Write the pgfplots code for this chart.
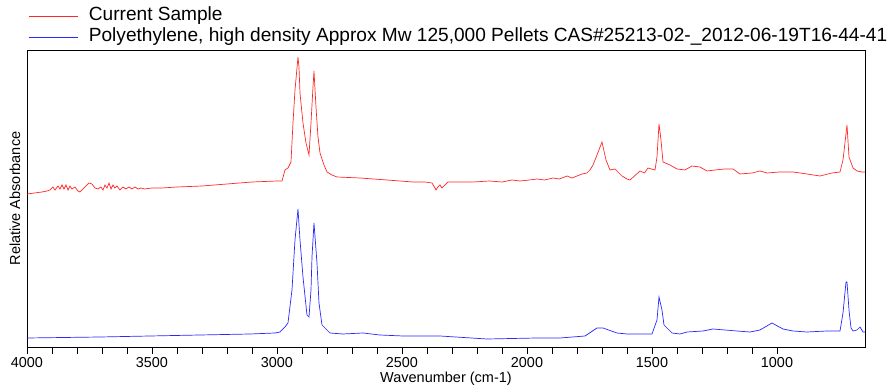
\documentclass[border=0pt]{standalone}
\usepackage{fontspec}
\setmainfont{Liberation Sans}
\usepackage{pgfplots}
\pgfplotsset{compat=1.18}
\definecolor{specred}{RGB}{255,40,40}
\definecolor{specblue}{RGB}{40,40,255}
\begin{document}
\begin{tikzpicture}
\begin{axis}[
  scale only axis, width=838pt, height=297pt,
  x dir=reverse, xmin=648, xmax=4000, ymin=0, ymax=297,
  xtick={1000,1500,2000,2500,3000,3500,4000},
  minor x tick num=4,
  ytick=\empty, xtick pos=bottom,
  every tick/.append style={black, line width=0.6pt},
  tick align=outside, xtick align=outside, major tick length=7pt, minor tick length=7pt,
  axis line style={line width=0.8pt},
  /pgf/number format/assume math mode=true,
  /pgf/number format/set thousands separator={},
  xticklabel style={font=\fontsize{14.4}{16}\selectfont},
  xlabel={Wavenumber (cm-1)}, ylabel={Relative Absorbance},
  label style={font=\fontsize{14.5}{16}\selectfont},
  xlabel style={at={(axis description cs:0.5,0)}, yshift=-32pt, anchor=center},
  ylabel style={at={(axis description cs:-0.0143,0.5)}, anchor=center},
  legend style={draw=none, fill=none, at={(axis description cs:0,1)}, anchor=south west,
    yshift=3pt, xshift=1pt, inner sep=0pt, row sep=2pt,
    font=\fontsize{19.1}{21}\selectfont,
    nodes={inner sep=1pt, text height=13pt, text depth=4pt}},
  legend cell align=left,
  legend image code/.code={\draw[#1] (0pt,0pt) -- (49pt,0pt); \path (59pt,0pt);},
]
\addplot[specred, line width=0.7pt] coordinates {
(4000,153)(3970,154)(3940,155)(3920,156)(3908,157)(3896,160)(3888,157)(3876,161)(3868,158)
(3860,162)(3852,158)(3844,162)(3836,157)(3828,161)(3820,158)(3808,160)(3796,156)(3788,155)
(3776,158)(3764,161)(3752,164)(3740,163)(3728,159)(3716,158)(3704,160)(3696,157)(3688,162)
(3680,159)(3672,164)(3664,158)(3656,162)(3648,159)(3640,161)(3628,157)(3616,160)(3604,158)
(3592,160)(3580,158)(3568,160)(3556,158)(3544,159)(3530,158)(3500,159)(3460,159)(3400,160)
(3300,161)(3200,163)(3100,165)(3000,166)
(2980,166)(2968,177)(2956,179)(2944,185)(2936,224)(2928,257)(2916,290)(2912,280)(2908,254)
(2896,224)(2884,204)(2872,192)(2864,224)(2856,260)(2852,276)(2844,240)(2836,210)(2828,194)
(2812,182)(2800,175)(2780,172)(2760,170)(2668,169)(2560,167)(2456,165)(2408,165)
(2380,164)(2368,159)(2364,157)(2356,160)(2348,162)(2340,159)(2316,165)(2216,165)(2150,166)
(2100,165)(2060,167)(2028,166)(1990,167)(1960,168)(1930,167)(1896,169)(1870,168)(1840,171)
(1820,169)(1800,171)(1780,173)(1760,174)(1748,177)(1736,182)(1720,192)(1700,205)(1684,187)(1668,177)
(1648,178)(1620,171)(1600,168)(1588,167)(1548,176)(1530,174)(1516,179)(1488,177)(1480,190)
(1472,223)(1464,207)(1456,185)(1428,182)(1400,178)(1368,177)(1340,181)(1308,180)(1280,176)
(1248,177)(1210,178)(1176,178)(1148,173)(1100,174)(1068,176)(1040,174)(990,175)(936,175)
(880,173)(828,171)(780,174)(748,175)(736,187)(720,222)(712,190)(696,179)(680,176)(660,175)(648,175)
};
\addlegendentry{Current Sample}
\addplot[specblue, line width=0.7pt] coordinates {
(4000,9)(3708,10)(3508,11)(3108,13)(3008,14)(2988,15)(2968,20)(2956,24)(2940,57)(2928,107)
(2916,138)(2908,107)(2896,70)(2880,32)(2872,30)(2864,57)(2860,90)(2852,124)(2840,84)(2832,44)
(2820,22)(2788,14)(2736,13)(2656,14)(2588,12)(2496,11)(2348,11)(2160,8)(1960,9)(1868,9)
(1768,11)(1720,19)(1696,19)(1640,14)(1600,13)(1500,13)(1480,27)(1472,50)(1460,37)(1452,22)
(1420,14)(1388,13)(1360,15)(1296,16)(1256,18)(1160,16)(1108,15)(1068,17)(1020,24)(976,18)
(936,16)(880,15)(800,16)(748,16)(736,34)(724,65)(720,65)(712,37)(704,19)(696,16)(680,17)
(668,20)(656,15)(648,15)
};
\addlegendentry{Polyethylene, high density Approx Mw 125,000 Pellets CAS\#25213-02-\_2012-06-19T16-44-41}
\end{axis}
\pgfresetboundingbox
\path (-27pt,-43pt) rectangle (863pt,347pt);
\end{tikzpicture}
\end{document}
